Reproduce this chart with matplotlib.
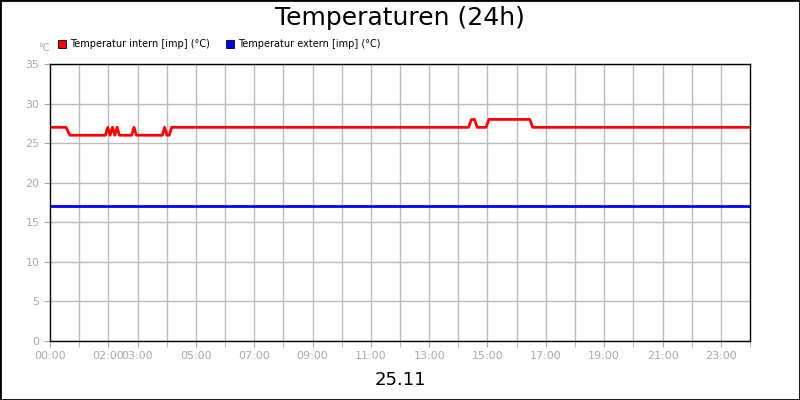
import matplotlib
matplotlib.use("Agg")
import matplotlib.pyplot as plt
from matplotlib.patches import Rectangle

# data (hours since 00:00, value)
intern_t = [0, 0.55, 0.68, 1.9, 1.98, 2.06, 2.14, 2.22, 2.30, 2.38, 2.46, 2.8, 2.88, 2.96,
            3.85, 3.93, 4.01, 4.09, 4.17, 14.35, 14.45, 14.55, 14.65, 14.95, 15.05,
            16.45, 16.55, 24]
intern_v = [27, 27, 26, 26, 27, 26, 27, 26, 27, 26, 26, 26, 27, 26,
            26, 27, 26, 26, 27, 27, 28, 28, 27, 27, 28,
            28, 27, 27]
extern_t = [0, 24]
extern_v = [17, 17]
tick_hours = [0, 2, 3, 5, 7, 9, 11, 13, 15, 17, 19, 21, 23]
tick_labels = ["00:00", "02:00", "03:00", "05:00", "07:00", "09:00", "11:00",
               "13:00", "15:00", "17:00", "19:00", "21:00", "23:00"]

fig = plt.figure(figsize=(8, 4), dpi=100)
fig.patches.append(Rectangle((0, 0), 1, 1, transform=fig.transFigure, fill=False,
                             edgecolor="black", linewidth=2))
ax = fig.add_axes([50/800, 1-341/400, 700/800, 277/400])
for h in range(1, 24):
    ax.axvline(h, color="#bbbbbb", lw=1, zorder=0)
ax.plot(intern_t, intern_v, color="#ff0000", lw=2)
ax.plot(extern_t, extern_v, color="#0000ff", lw=2)
ax.set_xlim(0, 24)
ax.set_ylim(0, 35)
ax.set_xticks(tick_hours, tick_labels)
ax.set_xticks(range(25), minor=True)
ax.set_yticks(range(0, 36, 5))
ax.grid(True, which="major", axis="y", color="#bbbbbb", lw=1)
ax.set_axisbelow(True)
ax.tick_params(which="both", colors="#aaaaaa", labelsize=8, length=4)
for s in ax.spines.values():
    s.set_linewidth(1)
fig.text(0.5, 0.955, "Temperaturen (24h)", ha="center", va="center", fontsize=18)
fig.text(0.5, 0.05, "25.11", ha="center", va="center", fontsize=13)
fig.text(38/800, 1-48/400, "°C", fontsize=7, color="#aaaaaa", ha="left", va="center")
fig.patches.append(Rectangle((58/800, 1-48/400), 8/800, 8/400, transform=fig.transFigure,
                             facecolor="#ff0000", edgecolor="black", lw=0.6))
fig.text(70/800, 1-44/400, "Temperatur intern [imp] (°C)", fontsize=7, va="center")
fig.patches.append(Rectangle((226/800, 1-48/400), 8/800, 8/400, transform=fig.transFigure,
                             facecolor="#0000ff", edgecolor="black", lw=0.6))
fig.text(238/800, 1-44/400, "Temperatur extern [imp] (°C)", fontsize=7, va="center")
fig.savefig("out.png", dpi=100)
